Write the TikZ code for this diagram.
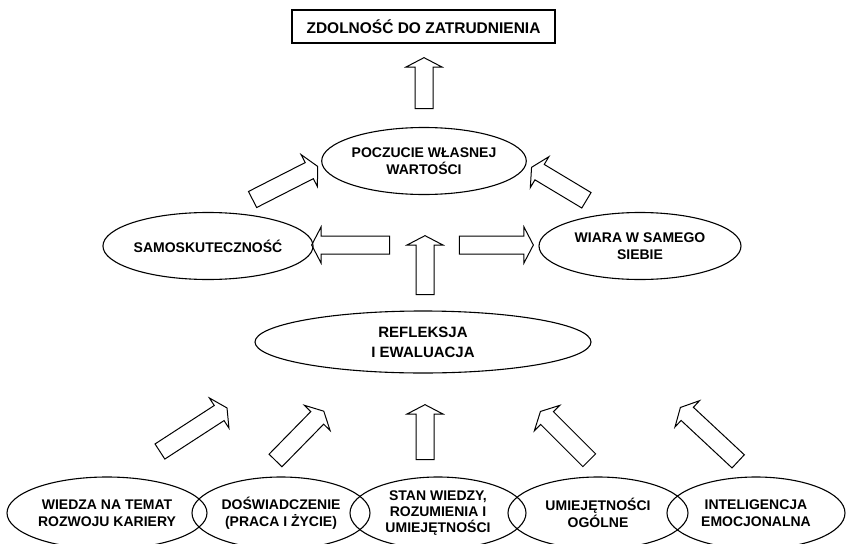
\documentclass[tikz,border=0pt]{standalone}
\usepackage{fontspec}
\setmainfont{Liberation Sans}
\usetikzlibrary{shapes.geometric,shapes.arrows}
\begin{document}
\begin{tikzpicture}[x=1pt,y=-1pt,
  ell/.style={draw, ellipse, line width=1.1pt, inner sep=0pt, align=center,
    font=\bfseries\fontsize{14}{17}\selectfont},
  barrow/.style={draw, single arrow, line width=1pt, inner xsep=0pt, inner ysep=8.5pt,
    single arrow head extend=9pt, single arrow tip angle=125}]
\useasboundingbox (0,0) rectangle (847,544);
% top goal
\node[draw, line width=1.1pt, minimum width=263pt, minimum height=33pt,
  font=\bfseries\fontsize{15.5}{19}\selectfont] (goal) at (423.5,26.5) {ZDOLNOŚĆ DO ZATRUDNIENIA};
% middle ellipses
\node[ell, minimum width=202pt, minimum height=67pt] (pwv) at (424,161) {POCZUCIE WŁASNEJ\\WARTOŚCI};
\node[ell, minimum width=202pt, minimum height=67pt] (samo) at (208,246) {SAMOSKUTECZNOŚĆ};
\node[ell, minimum width=202pt, minimum height=67pt] (wiara) at (640,246) {WIARA W SAMEGO\\SIEBIE};
\node[ell, minimum width=336pt, minimum height=62pt,
  font=\bfseries\fontsize{15}{20}\selectfont] (ref) at (423,342) {REFLEKSJA\\I EWALUACJA};
% bottom ellipses
\node[ell, minimum width=200pt, minimum height=72pt] (wiedza) at (107,513) {WIEDZA NA TEMAT\\ROZWOJU KARIERY};
\node[ell, minimum width=178pt, minimum height=72pt] (dosw) at (281,513) {DOŚWIADCZENIE\\(PRACA I ŻYCIE)};
\node[ell, minimum width=176pt, minimum height=72pt, font=\bfseries\fontsize{14}{16}\selectfont] (stan) at (438,513) {STAN WIEDZY,\\ROZUMIENIA I\\UMIEJĘTNOŚCI};
\node[ell, minimum width=180pt, minimum height=72pt] (umiej) at (598,513) {UMIEJĘTNOŚCI\\OGÓLNE};
\node[ell, minimum width=178pt, minimum height=72pt] (intel) at (756,513) {INTELIGENCJA\\EMOCJONALNA};
% block arrows
\node[barrow, minimum height=51pt, rotate=90] (a1) at (424,85.5) {};
\node[barrow, minimum height=73pt, rotate=27] (a2) at (283,184) {};
\node[barrow, minimum height=64pt, rotate=149] (a3) at (561,185) {};
\node[barrow, minimum height=78pt, rotate=180] (a4) at (353,245) {};
\node[barrow, minimum height=74pt, rotate=0] (a5) at (494,245) {};
\node[barrow, minimum height=59pt, rotate=90] (a6) at (425,267.5) {};
\node[barrow, minimum height=80pt, rotate=33] (a7) at (191.5,431) {};
\node[barrow, minimum height=69pt, rotate=45.6] (a8) at (298,437.5) {};
\node[barrow, minimum height=55pt, rotate=90] (a9) at (425,434.5) {};
\node[barrow, minimum height=69pt, rotate=135] (a10) at (566.5,437.5) {};
\node[barrow, minimum height=79pt, rotate=137] (a11) at (711,436) {};
\end{tikzpicture}
\end{document}
